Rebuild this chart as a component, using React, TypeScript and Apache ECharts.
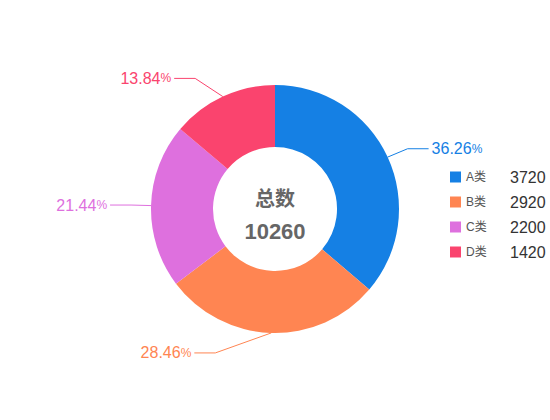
import * as echarts from "echarts";
import React, { useEffect, useRef } from "react";

const categories = ["A类", "B类", "C类", "D类"];
const values = [3720, 2920, 2200, 1420];
const colors = ["#1580e4", "#ff8552", "#de70de", "#fa446e"];
const totalLabel = "总数";

const FONT = "'Liberation Sans', 'Noto Sans CJK SC', sans-serif";

// pie geometry (px inside the chart div)
const CX = 275;
const CY = 209;
const R_IN = 62;
const R_OUT = 124;
const LEN = 20;
const LEN2 = 21;

const DonutChart: React.FC = () => {
    const chartRef = useRef<HTMLDivElement>(null);

    useEffect(() => {
        if (!chartRef.current) return;
        const chart = echarts.init(chartRef.current, undefined, { renderer: "svg" });

        const total = values.reduce((a, b) => a + b, 0);

        chart.setOption({
            animation: false,
            color: colors,
            textStyle: { fontFamily: FONT },
            legend: {
                orient: "vertical",
                left: 445,
                top: 164,
                itemWidth: 11,
                itemHeight: 11,
                itemGap: 9,
                icon: "rect",
                data: categories,
                formatter: (name: string) => {
                    const i = categories.indexOf(name);
                    return `{n|${name}}{v|${values[i]}}`;
                },
                textStyle: {
                    rich: {
                        n: { fontSize: 12, color: "#555", width: 44, lineHeight: 16, fontFamily: FONT },
                        v: { fontSize: 16, color: "#333", lineHeight: 16, fontFamily: FONT },
                    },
                },
            },
            graphic: [
                {
                    type: "text",
                    x: CX,
                    y: CY - 10,
                    style: {
                        text: totalLabel,
                        fill: "#666",
                        font: `bold 20px ${FONT}`,
                        textAlign: "center",
                        textVerticalAlign: "middle",
                    },
                },
                {
                    type: "text",
                    x: CX,
                    y: CY + 22,
                    style: {
                        text: String(total),
                        fill: "#666",
                        font: `bold 22px ${FONT}`,
                        textAlign: "center",
                        textVerticalAlign: "middle",
                    },
                },
            ],
            series: [
                {
                    type: "pie",
                    center: [CX, CY],
                    radius: [R_IN, R_OUT],
                    startAngle: 90,
                    clockwise: true,
                    data: categories.map((name, i) => ({
                        name,
                        value: values[i],
                        label: { color: colors[i] },
                    })),
                    label: {
                        show: true,
                        position: "outside",
                        formatter: (p: any) => `{v|${((p.value / total) * 100).toFixed(2)}}{u|%}`,
                        rich: {
                            v: { fontSize: 16, fontFamily: FONT },
                            u: { fontSize: 12, fontFamily: FONT },
                        },
                    },
                    labelLine: { show: true, length: LEN, length2: LEN2, lineStyle: { width: 1 } },
                    // place label ends on a circle, like the older ECharts layout did
                    labelLayout: (p: any) => {
                        const pts = p.labelLinePoints;
                        if (!pts || pts.length < 3) return {};
                        const s = pts[0];
                        const t = pts[1];
                        const dir = pts[2][0] < t[0] ? -1 : 1;
                        const dy = Math.abs(t[1] - CY);
                        const R = R_OUT + LEN + LEN2;
                        const endX = CX + dir * Math.sqrt(Math.max(R * R - dy * dy, 0));
                        return {
                            x: endX + dir * 3,
                            y: t[1],
                            align: dir < 0 ? "right" : "left",
                            verticalAlign: "middle",
                            labelLinePoints: [s, [endX - dir * LEN2, t[1]], [endX, t[1]]],
                        };
                    },
                    emphasis: { scale: false },
                },
            ],
        });

        return () => chart.dispose();
    }, []);

    return (
        <div
            ref={chartRef}
            style={{ position: "absolute", left: 0, top: 0, width: 550, height: 420 }}
        />
    );
};

export default function App() {
    return <DonutChart />;
}
